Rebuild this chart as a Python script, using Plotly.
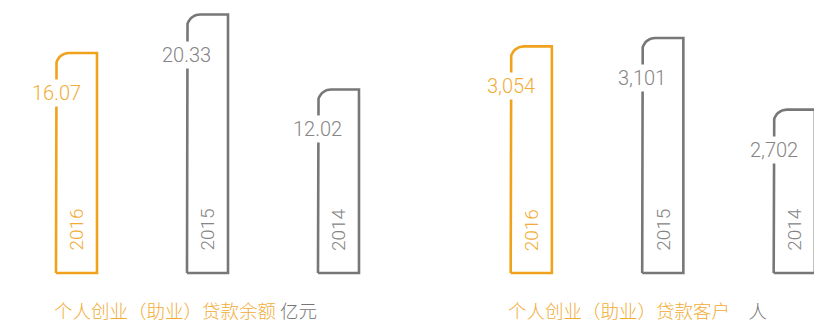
import numpy as np
import plotly.graph_objects as go

years = ["2016", "2015", "2014"]
loan_balance = [16.07, 20.33, 12.02]          # 亿元
loan_customers = [3054, 3101, 2702]           # 人
balance_labels = ["16.07", "20.33", "12.02"]
customer_labels = ["3,054", "3,101", "2,702"]
caption_left = "个人创业（助业）贷款余额"
unit_left = "亿元"
caption_right = "个人创业（助业）贷款客户"
unit_right = "人"

ORANGE = "#F0A21C"
ORANGE_TXT = "#F2AC36"
GRAY = "#777777"
GRAY_TXT = "#858585"
colors = [ORANGE, GRAY, GRAY]
txt_colors = [ORANGE_TXT, GRAY_TXT, GRAY_TXT]
FONT = "Roboto"

W, H = 814, 322
# axis settings (pixel calibration)
left_cfg = dict(xrange=[-0.584, 2.523], yrange=[-13.76, 21.94], base=-8.33)
right_cfg = dict(xrange=[-0.945, 2.150], yrange=[1520.3, 3312.2], base=1793.0)
BAR_W = 0.313
R_PX = 13.0


def outline(xc, top, base, xr, yr, width_px):
    px_per_x = width_px / (xr[1] - xr[0])
    px_per_y = H / (yr[1] - yr[0])
    rx = R_PX / px_per_x
    ry = R_PX / px_per_y
    x0, x1 = xc - BAR_W / 2, xc + BAR_W / 2
    xs = [x0, x0]
    ys = [base, top - ry]
    for t in np.linspace(np.pi, np.pi / 2, 12):
        xs.append(x0 + rx + rx * np.cos(t))
        ys.append(top - ry + ry * np.sin(t))
    xs += [x1, x1, x0]
    ys += [top, base, base]
    return xs, ys


fig = go.Figure()
annotations = []

groups = [
    (loan_balance, balance_labels, left_cfg, "x", "y", caption_left, unit_left, 52, " "),
    (loan_customers, customer_labels, right_cfg, "x2", "y2", caption_right, unit_right, 506, "　"),
]

for vals, labels, cfg, xa, ya, cap, unit, cap_x, sep in groups:
    for i, (v, lab, yr) in enumerate(zip(vals, labels, years)):
        xs, ys = outline(i, v, cfg["base"], cfg["xrange"], cfg["yrange"], W / 2)
        fig.add_trace(go.Scatter(x=xs, y=ys, mode="lines", xaxis=xa, yaxis=ya,
                                 line=dict(color=colors[i], width=2.6),
                                 hoverinfo="skip", showlegend=False))
        annotations.append(dict(x=i - BAR_W / 2, y=v, xref=xa, yref=ya, text=lab,
                                showarrow=False, yshift=-40, xanchor="center", yanchor="middle",
                                bgcolor="white", borderpad=1,
                                font=dict(family=FONT, size=20, color=txt_colors[i], weight=300)))
        annotations.append(dict(x=i, y=cfg["base"], xref=xa, yref=ya, text=yr,
                                showarrow=False, textangle=-90, yshift=20,
                                xanchor="center", yanchor="bottom",
                                font=dict(family=FONT, size=19, color=txt_colors[i], weight=300)))
    annotations.append(dict(x=cap_x / W, y=1 - 310 / H, xref="paper", yref="paper", showarrow=False,
                            xanchor="left", yanchor="middle",
                            text=f"<span style='color:{ORANGE_TXT}'>{cap}</span>{sep}"
                                 f"<span style='color:{GRAY}'>{unit}</span>",
                            font=dict(family="Noto Sans CJK SC", size=18.5, weight=300)))

ax_common = dict(visible=False, showgrid=False, zeroline=False, fixedrange=True)
fig.update_layout(
    width=W, height=H, margin=dict(l=0, r=0, t=0, b=0),
    paper_bgcolor="white", plot_bgcolor="white",
    xaxis=dict(domain=[0, 0.5], range=left_cfg["xrange"], **ax_common),
    yaxis=dict(domain=[0, 1], range=left_cfg["yrange"], **ax_common),
    xaxis2=dict(domain=[0.5, 1], range=right_cfg["xrange"], anchor="y2", **ax_common),
    yaxis2=dict(domain=[0, 1], range=right_cfg["yrange"], anchor="x2", **ax_common),
    annotations=annotations,
    showlegend=False,
)
fig.write_html("out.html")
